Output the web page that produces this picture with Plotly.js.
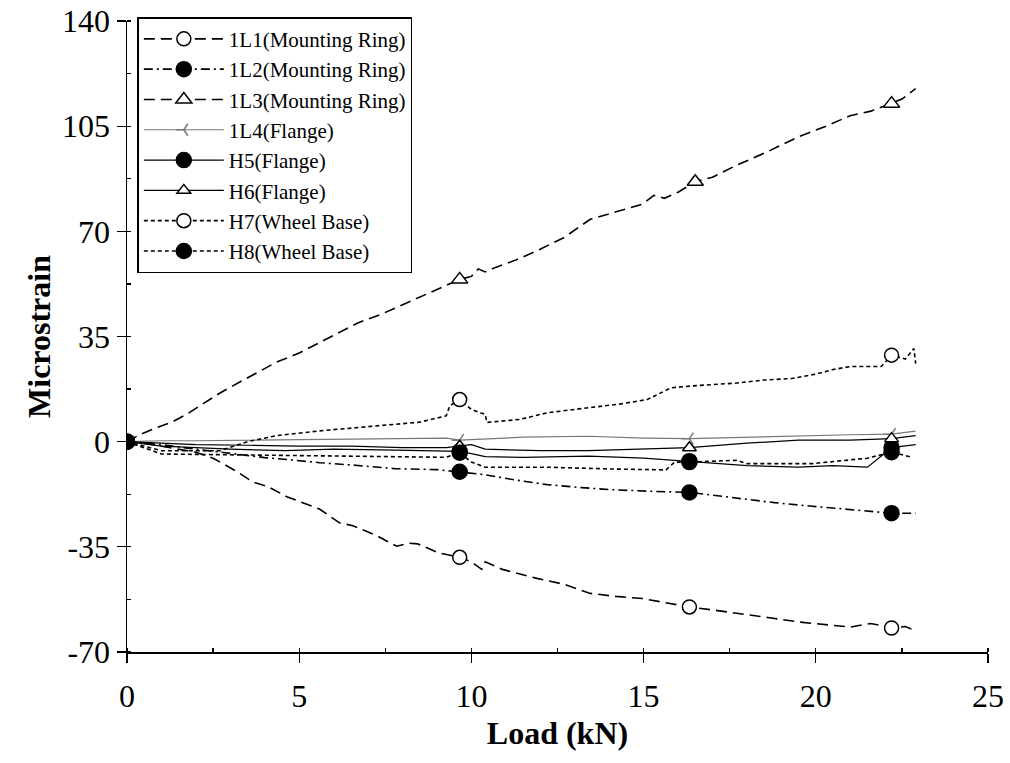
<!DOCTYPE html>
<html>
<head>
<meta charset="utf-8">
<script src="https://cdn.plot.ly/plotly-3.0.1.min.js"></script>
<style>
  html, body { margin: 0; padding: 0; background: #ffffff; }
  #chart { width: 1010px; height: 763px; }
</style>
</head>
<body>
<div id="chart"></div>
<script>
// Strain gauge readings (microstrain) against applied load (kN)

const load1L1 = [0, 0.5, 1.0, 1.5, 2.0, 2.5, 2.7, 3.2, 3.65, 4.1, 4.64, 5.6, 6.17, 6.56, 7.2, 7.83, 8.2, 8.44, 9.05, 9.66, 10.0, 10.3, 10.4, 10.9, 11.9, 12.7, 13.45, 14.2, 14.96, 15.6, 16.33, 17.0, 17.7, 18.6, 19.5, 20.3, 21.0, 21.6, 22.2, 22.6, 22.9];
const strain1L1 = [0, -0.5, -1.5, -2.5, -3.5, -5.5, -6.8, -10, -13.4, -15, -18.3, -22.5, -27, -28, -31, -34.8, -33.8, -34, -37, -38.5, -40, -42.5, -40, -42.5, -45.5, -47.5, -50.5, -51.5, -52.2, -53.5, -55, -56, -57, -58.5, -60, -61, -61.7, -60.5, -62, -61.5, -63];

const load1L2 = [0, 1, 2, 3, 4, 4.8, 5.6, 6.56, 7.8, 9.0, 9.66, 10.0, 10.4, 11.3, 12.2, 13.2, 14.1, 15.2, 16.33, 17.0, 17.7, 18.8, 19.9, 21.0, 22.2, 22.9];
const strain1L2 = [0, -1, -2.5, -4, -5.3, -6.1, -7, -7.8, -9, -9.3, -10, -10.5, -11, -12.8, -14.3, -15.3, -16, -16.5, -16.9, -17.8, -18.8, -20.3, -21.5, -22.5, -23.8, -23.8];

const load1L3 = [0, 0.4, 0.86, 1.3, 1.73, 2.2, 2.7, 3.3, 3.8, 4.35, 5.0, 6.0, 6.7, 7.4, 8.3, 9.0, 9.66, 10.0, 10.2, 10.4, 10.7, 11.3, 11.9, 12.7, 13.45, 14.2, 14.96, 15.3, 15.6, 16.0, 16.5, 17.0, 17.7, 18.6, 19.5, 20.3, 21.0, 21.6, 22.2, 22.5, 22.9];
const strain1L3 = [0, 2.5, 4.7, 6.5, 9.1, 12.5, 16.2, 20, 23, 26.5, 29.5, 35.5, 39.5, 42.5, 47, 50.5, 54, 55, 57.5, 56.5, 58, 60.5, 63.5, 68, 74, 76.5, 79, 82, 81, 83, 86.5, 88, 92, 96.5, 101.5, 105, 108.5, 110, 112.5, 114, 117.5];

const load1L4 = [0, 1, 2, 3.5, 5, 7, 9.27, 9.66, 10.4, 11.5, 13.4, 15, 16.33, 18, 19.5, 21, 22.2, 22.9];
const strain1L4 = [0, 0.3, 0.3, 0.5, 0.8, 1.0, 1.2, 0.5, 1, 1.5, 1.8, 1.2, 1, 1.5, 2, 2.3, 2.5, 3.5];

const loadH5 = [0, 1, 2, 3, 4.6, 6, 7.8, 9.27, 9.66, 10.0, 10.4, 11.5, 13.4, 15.0, 16.33, 18, 19.5, 20.5, 21.5, 22.2, 22.9];
const strainH5 = [0, -1.5, -2, -2.5, -3, -2.5, -2.8, -3, -3.2, -4, -5, -5.2, -4.8, -5.5, -6.5, -8, -8.5, -8, -8.5, -2, -1];

const loadH6 = [0, 1, 2, 3.5, 5, 6.5, 8, 9.27, 9.66, 10.0, 10.4, 12, 13.4, 15, 16.33, 18, 19.5, 21, 22.2, 22.9];
const strainH6 = [0, -0.5, -1, -1.2, -1.5, -1.5, -2, -2, -1.5, -1, -2.5, -3, -3, -2.5, -2, -0.5, 0.5, 0.5, 1, 2];

const loadH7 = [0, 0.5, 1.0, 2.0, 2.7, 3.5, 4.34, 5.6, 6.5, 7.53, 8.5, 9.27, 9.37, 9.66, 10.0, 10.4, 10.45, 11.4, 12.2, 13.4, 14.3, 15.1, 15.8, 16.33, 17.0, 17.7, 18.5, 19.3, 20.0, 20.5, 21.0, 21.9, 22.2, 22.6, 22.85, 22.9];
const strainH7 = [0, -1.5, -3, -3, -3, 0, 2, 3.6, 4.5, 5.3, 6.5, 8.6, 11.9, 14, 10.7, 9.1, 6.4, 7.4, 9.6, 11.3, 12.5, 14, 17.9, 18.5, 19, 19.5, 20.5, 21, 22.5, 24, 25, 25, 28.8, 27.5, 31, 26];

const loadH8 = [0, 0.5, 1.0, 2.5, 4.6, 6, 7.8, 9.27, 9.66, 10.0, 10.4, 11.3, 12.2, 14.1, 15.65, 15.9, 16.33, 17.7, 18.0, 19.9, 20.9, 21.5, 22.2, 22.8];
const strainH8 = [0, -2, -4.1, -4.3, -4.6, -4.9, -5.2, -5.2, -3.7, -6.8, -8.5, -8.5, -8.5, -9.1, -9.4, -6.8, -6.8, -6.2, -7.3, -7.3, -6.2, -5.5, -3.5, -5.2];

// loads at which each gauge carries a symbol
const markLoads1L1 = [0, 9.66, 16.33, 22.2];
const markLoads1L2 = [0, 9.66, 16.33, 22.2];
const markLoads1L3 = [0, 9.66, 16.5, 22.2];
const markLoads1L4 = [0, 9.66, 16.33, 22.2];
const markLoadsH5 = [0, 9.66, 16.33, 22.2];
const markLoadsH6 = [0, 9.66, 16.33, 22.2];
const markLoadsH7 = [0, 9.66, 22.2];
const markLoadsH8 = [0, 9.66, 16.33, 22.2];

const seriesNames = ['1L1(Mounting Ring)', '1L2(Mounting Ring)', '1L3(Mounting Ring)', '1L4(Flange)',
                     'H5(Flange)', 'H6(Flange)', 'H7(Wheel Base)', 'H8(Wheel Base)'];

// axis tick values and their printed labels
const xTickVals = [0, 5, 10, 15, 20, 25];
const xTickText = ['0', '5', '10', '15', '20', '25'];
const yTickVals = [-70, -35, 0, 35, 70, 105, 140];
const yTickText = ['-70', '-35', '0', '35', '70', '105', '140'];

const FONT = '"Liberation Serif", "Times New Roman", serif';

// hollow symbols are white-filled so the line stops at their outline
const styles = [
  { dash: '11px,6px', width: 1.6, color: '#000', symbol: 'circle', fill: '#fff', size: 14 },
  { dash: '9px,4px,2px,4px', width: 1.6, color: '#000', symbol: 'circle', fill: '#000', size: 15 },
  { dash: '11px,6px', width: 1.6, color: '#000', symbol: 'triangle-up', fill: '#fff', size: 14 },
  { dash: 'solid', width: 1.2, color: '#777', symbol: 'y-left', fill: '#777', size: 10 },
  { dash: 'solid', width: 1.2, color: '#000', symbol: 'circle', fill: '#000', size: 15 },
  { dash: 'solid', width: 1.2, color: '#000', symbol: 'triangle-up', fill: '#fff', size: 12 },
  { dash: '4px,3px', width: 1.6, color: '#000', symbol: 'circle', fill: '#fff', size: 14 },
  { dash: '4px,3px', width: 1.6, color: '#000', symbol: 'circle', fill: '#000', size: 15 }
];

const loads = [load1L1, load1L2, load1L3, load1L4, loadH5, loadH6, loadH7, loadH8];
const strains = [strain1L1, strain1L2, strain1L3, strain1L4, strainH5, strainH6, strainH7, strainH8];
const markLoads = [markLoads1L1, markLoads1L2, markLoads1L3, markLoads1L4, markLoadsH5, markLoadsH6, markLoadsH7, markLoadsH8];

const traces = [];
// continuous gauge records
loads.forEach((xs, i) => {
  const s = styles[i];
  traces.push({
    type: 'scatter', mode: 'lines', x: xs, y: strains[i],
    line: { color: s.color, width: s.width, dash: s.dash },
    showlegend: false, legendgroup: 'g' + i, hoverinfo: 'skip'
  });
});
// symbols at selected loads, isolated by gaps so no extra segments are drawn
loads.forEach((xs, i) => {
  const s = styles[i];
  const mx = [], my = [];
  markLoads[i].forEach(L => {
    const k = xs.indexOf(L);
    if (k >= 0) { mx.push(xs[k], null); my.push(strains[i][k], null); }
  });
  traces.push({
    type: 'scatter', mode: 'lines+markers', x: mx, y: my, connectgaps: false,
    name: seriesNames[i], legendgroup: 'g' + i,
    line: { color: s.color, width: s.width, dash: s.dash },
    marker: { symbol: s.symbol, size: s.size, color: s.fill,
              line: { color: s.color, width: 1.5 } }
  });
});

const layout = {
  width: 1010, height: 763,
  margin: { l: 127, r: 22, t: 21, b: 111 },
  paper_bgcolor: '#ffffff', plot_bgcolor: '#ffffff',
  font: { family: FONT, color: '#000' },
  showlegend: true,
  legend: {
    x: 0.012, y: 1.006, xanchor: 'left', yanchor: 'top',
    bgcolor: '#ffffff', bordercolor: '#000', borderwidth: 1.5,
    font: { family: FONT, size: 21, color: '#000' },
    itemwidth: 80, itemsizing: 'trace', tracegroupgap: 0
  },
  xaxis: {
    range: [0, 25], tickmode: 'array', tickvals: xTickVals, ticktext: xTickText,
    showgrid: false, zeroline: false,
    showline: true, linecolor: '#000', linewidth: 1.5,
    ticks: 'outside', ticklen: 9, tickwidth: 1.3, tickcolor: '#000',
    ticklabelstandoff: 6, ticklabeloverflow: 'allow',
    minor: { dtick: 2.5, tick0: 0, ticks: 'inside', ticklen: 4, tickcolor: '#000' },
    tickfont: { family: FONT, size: 32, color: '#000' },
    title: { text: '<b>Load (kN)</b>', font: { family: FONT, size: 32, color: '#000' }, standoff: 8 }
  },
  yaxis: {
    range: [-70, 140], tickmode: 'array', tickvals: yTickVals, ticktext: yTickText,
    showgrid: false, zeroline: false,
    showline: true, linecolor: '#000', linewidth: 1.5,
    ticks: 'outside', ticklen: 9, tickwidth: 1.3, tickcolor: '#000',
    ticklabeloverflow: 'allow',
    minor: { dtick: 17.5, tick0: 0, ticks: 'inside', ticklen: 4, tickcolor: '#000' },
    tickfont: { family: FONT, size: 32, color: '#000' },
    title: { text: '<b>Microstrain</b>', font: { family: FONT, size: 32, color: '#000' }, standoff: 2 }
  }
};

Plotly.newPlot('chart', traces, layout, { staticPlot: true, displayModeBar: false });
</script>
</body>
</html>
